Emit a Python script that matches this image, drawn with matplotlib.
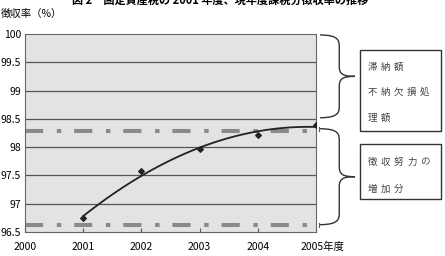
import matplotlib.pyplot as plt
import numpy as np
from matplotlib.path import Path
from matplotlib.patches import PathPatch, Rectangle
from matplotlib.transforms import ScaledTranslation

plt.rcParams['font.family'] = ['Noto Sans CJK JP', 'DejaVu Sans']

years = [2001, 2002, 2003, 2004, 2005]
rates = [96.74, 97.58, 97.97, 98.22, 98.39]
upper_ref = 98.29
lower_ref = 96.63
x_ticks = [2000, 2001, 2002, 2003, 2004, 2005]
x_labels = ["2000", "2001", "2002", "2003", "2004", "2005年度"]
y_ticks = [96.5, 97, 97.5, 98, 98.5, 99, 99.5, 100]
y_labels = ["96.5", "97", "97.5", "98", "98.5", "99", "99.5", "100"]
box1_lines = ["滞納額", "不納欠損処", "理額"]
box2_lines = ["徴収努力の", "増加分"]

W, H = 445, 256
fig = plt.figure(figsize=(W / 100, H / 100), dpi=100)
ax = fig.add_axes([25 / W, 24 / H, 291 / W, 198 / H])
ax.set_facecolor("#e3e3e3")

ax.set_xlim(2000, 2005)
ax.set_ylim(96.5, 100)
ax.set_yticks(y_ticks)
ax.set_yticklabels(y_labels)
ax.set_xticks(x_ticks)
ax.set_xticklabels(x_labels)
ax.tick_params(axis="y", length=0, labelsize=7.5, pad=3)
ax.tick_params(axis="x", direction="in", length=3, labelsize=7.5, pad=7, color="#555555")
# the "年度" label sits a bit to the right of its tick
last = ax.get_xticklabels()[-1]
last.set_transform(last.get_transform() + ScaledTranslation(6 / 100, 0, fig.dpi_scale_trans))
for yv in y_ticks[1:-1]:
    ax.axhline(yv, color="#555555", lw=0.9, zorder=1)
for s in ax.spines.values():
    s.set_color("#666666")
    s.set_linewidth(0.8)

# reference levels (gray dash-dot)
for yv in (upper_ref, lower_ref):
    ax.plot([2000, 2005], [yv, yv], color="#8a8a8a", lw=2.9,
            dashes=(4.5, 3.4, 1.1, 3.2), zorder=2, solid_capstyle="butt",
            dash_capstyle="butt", clip_on=False)

# trend line
coef = np.polyfit(years, rates, 2)
xs = np.linspace(2001, 2005, 100)
ax.plot(xs, np.polyval(coef, xs), color="#222222", lw=1.3, zorder=3)
ax.scatter(years, rates, s=8, marker="D", color="#222222", zorder=4)

fig.text(1 / W, 1 - 14 / H, "徴収率（%）", ha="left", va="center", fontsize=7.5)
fig.text(220 / W, 1.0, "図 2　固定資産税の 2001 年度、現年度課税分徴収率の推移",
         ha="center", va="center", fontsize=8, fontweight="bold")

# overlay in pixel coordinates for braces and boxes
ov = fig.add_axes([0, 0, 1, 1], facecolor="none")
ov.set_xlim(0, W)
ov.set_ylim(H, 0)
ov.axis("off")


def to_px(v):
    _, yd = ax.transData.transform((2005, v))
    return H - yd


def brace(x0, y0, y1, width):
    ym = (y0 + y1) / 2
    xa = x0 + width * 0.55
    xt = x0 + width
    verts = [(x0, y0), (xa, y0), (xa, y0 + 6), (xa, y0 + 12),
             (xa, ym - 10),
             (xa, ym - 2), (xa + 4, ym), (xt, ym),
             (xa + 4, ym), (xa, ym + 2), (xa, ym + 10),
             (xa, y1 - 12),
             (xa, y1 - 6), (xa, y1), (x0, y1)]
    codes = [Path.MOVETO, Path.CURVE4, Path.CURVE4, Path.CURVE4,
             Path.LINETO,
             Path.CURVE4, Path.CURVE4, Path.CURVE4,
             Path.CURVE4, Path.CURVE4, Path.CURVE4,
             Path.LINETO,
             Path.CURVE4, Path.CURVE4, Path.CURVE4]
    ov.add_patch(PathPatch(Path(verts, codes), fill=False, lw=1.0,
                           edgecolor="#333333"))


def spaced(text, x, y, pitch=13):
    for i, ch in enumerate(text):
        ov.text(x + i * pitch, y, ch, fontsize=6.8, va="center", ha="left",
                color="#444444")


top_px = to_px(100)
up_px = to_px(upper_ref)
low_px = to_px(lower_ref)
brace(320, top_px + 1, up_px - 13, 35)
brace(320, up_px - 2, low_px, 35)
for yp in (up_px - 2, low_px):
    ov.plot([319, 319], [yp - 2, yp + 2], color="#555555", lw=0.8)

ov.add_patch(Rectangle((360, 50), 81, 81, fill=False, lw=1.0, edgecolor="#333333"))
ov.add_patch(Rectangle((360, 144), 81, 55, fill=False, lw=1.0, edgecolor="#333333"))
for i, t in enumerate(box1_lines):
    spaced(t, 368, 67 + i * 25.5)
for i, t in enumerate(box2_lines):
    spaced(t, 368, 162 + i * 27)

fig.savefig("out.png", dpi=100)
